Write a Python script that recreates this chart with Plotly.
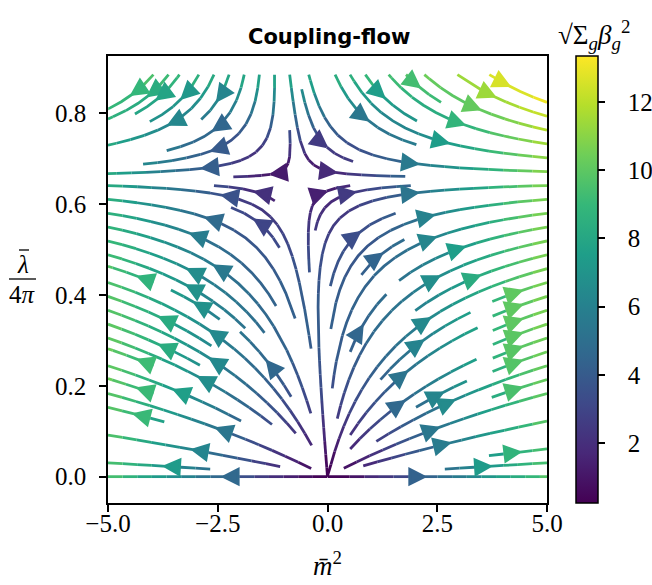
import numpy as np
import plotly.graph_objects as go
from plotly.colors import sample_colorscale

# ---------------- values ----------------
m_range = [-5.0, 5.0]            # extent of the m̄² grid
lam_range = [0.0, 0.885]         # extent of the λ̄/4π grid
grid_n = 100                     # grid resolution of the vector field
fixed_point = [-0.69, 0.656]     # non-trivial fixed point (m̄², λ̄/4π)
dim_m = 2.0                      # linear coefficient of β_m (relevant direction)
dim_lam = 2.0                    # linear coefficient of β_λ
lam_norm = 4 * np.pi             # λ̄ = 4π · (plotted coupling)
color_range = [0.24, 13.35]      # colour-bar limits
x_ticks = [-5.0, -2.5, 0.0, 2.5, 5.0]
y_ticks = [0.0, 0.2, 0.4, 0.6, 0.8]
y_view = [-0.058, 0.926]
cbar_ticks = [2, 4, 6, 8, 10, 12]

# ---------------- beta functions on the grid ----------------
m_star, l_star = fixed_point
A = -dim_m * m_star / l_star ** 2
B = dim_lam / l_star
xs = np.linspace(m_range[0], m_range[1], grid_n)
ys = np.linspace(lam_range[0], lam_range[1], grid_n)
X, Y = np.meshgrid(xs, ys)
U = dim_m * X + A * Y ** 2
V = dim_lam * Y - B * Y ** 2
SPEED = np.sqrt(U ** 2 + (lam_norm * V) ** 2)


# ---------------- streamline integration (port of matplotlib) ----------------
class OutOfBounds(IndexError):
    pass


class InvalidIndexError(Exception):
    pass


class TerminateTrajectory(Exception):
    pass


NX, NY = grid_n, grid_n
DX = xs[1] - xs[0]
DY = ys[1] - ys[0]
MASK_N = 30
mask = np.zeros((MASK_N, MASK_N), dtype=int)
mask_state = {"traj": [], "current": None}
g2m_x = (MASK_N - 1) / (NX - 1)
g2m_y = (MASK_N - 1) / (NY - 1)


def within_grid(xi, yi):
    return 0 <= xi <= NX - 1 and 0 <= yi <= NY - 1


def grid2mask(xi, yi):
    return int(round(float(xi * g2m_x))), int(round(float(yi * g2m_y)))


def mask_update(xm, ym):
    if mask_state["current"] != (xm, ym):
        if mask[ym, xm] == 0:
            mask_state["traj"].append((ym, xm))
            mask[ym, xm] = 1
            mask_state["current"] = (xm, ym)
        else:
            raise InvalidIndexError


def mask_start(xm, ym):
    mask_state["traj"] = []
    mask_update(xm, ym)


def mask_undo():
    for t in mask_state["traj"]:
        mask[t] = 0


def interp_scalar(a, xi, yi):
    Ny, Nx = a.shape
    x = int(xi)
    y = int(yi)
    xn = x if x == Nx - 1 else x + 1
    yn = y if y == Ny - 1 else y + 1
    xt = xi - x
    yt = yi - y
    a0 = a[y, x] * (1 - xt) + a[y, xn] * xt
    a1 = a[yn, x] * (1 - xt) + a[yn, xn] * xt
    return a0 * (1 - yt) + a1 * yt


def interp_array(a, xi, yi):
    Ny, Nx = a.shape
    x = xi.astype(int)
    y = yi.astype(int)
    xn = np.clip(x + 1, 0, Nx - 1)
    yn = np.clip(y + 1, 0, Ny - 1)
    xt = xi - x
    yt = yi - y
    a0 = a[y, x] * (1 - xt) + a[y, xn] * xt
    a1 = a[yn, x] * (1 - xt) + a[yn, xn] * xt
    return a0 * (1 - yt) + a1 * yt


Ug = U / DX
Vg = V / DY
spd_ax = np.sqrt((Ug / (NX - 1)) ** 2 + (Vg / (NY - 1)) ** 2)


def forward_time(xi, yi):
    if not within_grid(xi, yi):
        raise OutOfBounds
    ds_dt = interp_scalar(spd_ax, xi, yi)
    if ds_dt == 0:
        raise TerminateTrajectory
    dt_ds = 1.0 / ds_dt
    return interp_scalar(Ug, xi, yi) * dt_ds, interp_scalar(Vg, xi, yi) * dt_ds


def backward_time(xi, yi):
    dx, dy = forward_time(xi, yi)
    return -dx, -dy


def euler_step(traj, f):
    xi, yi = traj[-1]
    cx, cy = f(xi, yi)
    if cx == 0:
        dsx = np.inf
    elif cx < 0:
        dsx = xi / -cx
    else:
        dsx = (NX - 1 - xi) / cx
    if cy == 0:
        dsy = np.inf
    elif cy < 0:
        dsy = yi / -cy
    else:
        dsy = (NY - 1 - yi) / cy
    ds = min(dsx, dsy)
    traj.append((xi + cx * ds, yi + cy * ds))
    return ds, traj


def rk12(x0, y0, f, maxlength):
    maxerror = 0.003
    maxds = min(1.0 / MASK_N, 1.0 / MASK_N, 0.1)
    ds = maxds
    stotal = 0
    xi, yi = x0, y0
    traj = []
    while True:
        try:
            if within_grid(xi, yi):
                traj.append((xi, yi))
            else:
                raise OutOfBounds
            k1x, k1y = f(xi, yi)
            k2x, k2y = f(xi + ds * k1x, yi + ds * k1y)
        except OutOfBounds:
            if traj:
                ds, traj = euler_step(traj, f)
                stotal += ds
            break
        except TerminateTrajectory:
            break
        dx1 = ds * k1x
        dy1 = ds * k1y
        dx2 = ds * 0.5 * (k1x + k2x)
        dy2 = ds * 0.5 * (k1y + k2y)
        error = np.hypot((dx2 - dx1) / (NX - 1), (dy2 - dy1) / (NY - 1))
        if error < maxerror:
            xi += dx2
            yi += dy2
            try:
                if not within_grid(xi, yi):
                    raise InvalidIndexError
                mask_update(*grid2mask(xi, yi))
            except InvalidIndexError:
                break
            if stotal + ds > maxlength:
                break
            stotal += ds
        if error == 0:
            ds = maxds
        else:
            ds = min(maxds, 0.85 * ds * (maxerror / error) ** 0.5)
    return stotal, traj


def integrate(x0, y0, minlength=0.1, maxlength=4.0):
    stotal, traj = 0.0, []
    try:
        mask_start(*grid2mask(x0, y0))
    except InvalidIndexError:
        return None
    s, xyt = rk12(x0, y0, backward_time, maxlength)
    stotal += s
    traj += xyt[::-1]
    mask_state["current"] = grid2mask(x0, y0)
    s, xyt = rk12(x0, y0, forward_time, maxlength)
    stotal += s
    traj += xyt[1:]
    if stotal > minlength:
        return np.array(traj)
    mask_undo()
    return None


def starting_points(nx, ny):
    xfirst, yfirst, xlast, ylast = 0, 1, nx - 1, ny - 1
    x, y = 0, 0
    direction = "right"
    for _ in range(nx * ny):
        yield x, y
        if direction == "right":
            x += 1
            if x >= xlast:
                xlast -= 1
                direction = "up"
        elif direction == "up":
            y += 1
            if y >= ylast:
                ylast -= 1
                direction = "left"
        elif direction == "left":
            x -= 1
            if x <= xfirst:
                xfirst += 1
                direction = "down"
        elif direction == "down":
            y -= 1
            if y <= yfirst:
                yfirst += 1
                direction = "right"


trajectories = []
for xm, ym in starting_points(MASK_N, MASK_N):
    if mask[ym, xm] == 0:
        xg, yg = xm / g2m_x, ym / g2m_y
        t = integrate(xg, yg)
        if t is not None:
            trajectories.append(t)

# ---------------- build plotly traces ----------------
NB = 64
cmin, cmax = color_range
bin_cols = sample_colorscale("Viridis", list((np.arange(NB) + 0.5) / NB))
bins_x = [[] for _ in range(NB)]
bins_y = [[] for _ in range(NB)]

# pixel geometry of the plotting area (for arrow heads)
L_M, R_M, T_M, B_M = 108, 105, 56, 82
W_PX = 652 - L_M - R_M
H_PX = 585 - T_M - B_M
sx = W_PX / (m_range[1] - m_range[0])
sy = H_PX / (y_view[1] - y_view[0])
PT = 1.389
head_len = 10.5 * PT
head_half = 5.3 * PT
lw = 2.0 * PT

arrows = []
for t in trajectories:
    tgx, tgy = t[:, 0], t[:, 1]
    tx = tgx * DX + xs[0]
    ty = tgy * DY + ys[0]
    cv = interp_array(SPEED, tgx, tgy)[:-1]
    idx = np.clip(((cv - cmin) / (cmax - cmin) * NB).astype(int), 0, NB - 1)
    start = 0
    for i in range(1, len(idx) + 1):
        if i == len(idx) or idx[i] != idx[start]:
            b = idx[start]
            bins_x[b].extend(list(tx[start:i + 1]) + [None])
            bins_y[b].extend(list(ty[start:i + 1]) + [None])
            start = i
    s = np.cumsum(np.hypot(np.diff(tx), np.diff(ty)))
    n = int(np.searchsorted(s, s[-1] / 2.0))
    tail = np.array([tx[n], ty[n]])
    head = np.array([np.mean(tx[n:n + 2]), np.mean(ty[n:n + 2])])
    d = np.array([(head[0] - tail[0]) * sx, (head[1] - tail[1]) * sy])
    if np.hypot(*d) == 0:
        continue
    d = d / np.hypot(*d)
    perp = np.array([-d[1], d[0]])
    tip_px = -d * (2 * PT + 0.5 * lw / 0.4472)
    base_px = tip_px - d * head_len
    p1 = base_px + perp * head_half
    p2 = base_px - perp * head_half
    pts = [tip_px, p1, p2, tip_px]
    ax_ = [head[0] + p[0] / sx for p in pts]
    ay_ = [head[1] + p[1] / sy for p in pts]
    c = sample_colorscale("Viridis", [float(np.clip((cv[min(n, len(cv) - 1)] - cmin) / (cmax - cmin), 0, 1))])[0]
    arrows.append((ax_, ay_, c))

fig = go.Figure()
for b in range(NB):
    if bins_x[b]:
        fig.add_trace(go.Scatter(x=bins_x[b], y=bins_y[b], mode="lines",
                                 line=dict(color=bin_cols[b], width=lw),
                                 hoverinfo="skip", showlegend=False))
for ax_, ay_, c in arrows:
    fig.add_trace(go.Scatter(x=ax_, y=ay_, mode="lines", fill="toself",
                             fillcolor=c, line=dict(color=c, width=lw),
                             hoverinfo="skip", showlegend=False))

serif = "Liberation Serif"
TICK_SIZE = 25

# colour bar
fig.add_trace(go.Scatter(
    x=[0.0], y=[0.0], mode="markers",
    marker=dict(size=0.1, color=[cmin], colorscale="Viridis", cmin=cmin, cmax=cmax,
                showscale=True,
                colorbar=dict(x=1 + 29 / W_PX, xanchor="left", xpad=0, ypad=0,
                              y=0.5, yanchor="middle", len=1, lenmode="fraction",
                              thickness=22, thicknessmode="pixels",
                              outlinewidth=1.5, outlinecolor="black",
                              tickvals=cbar_ticks,
                              ticktext=["\u2002\u2009" + str(v) for v in cbar_ticks],
                              ticks="outside", ticklen=7,
                              tickwidth=1.5, tickcolor="black",
                              tickfont=dict(family=serif, size=TICK_SIZE, color="black"))),
    hoverinfo="skip", showlegend=False))

axis_common = dict(ticks="outside", ticklen=7, tickwidth=1.5, tickcolor="black",
                   showline=True, mirror=True, linecolor="black", linewidth=1.6,
                   showgrid=False, zeroline=False,
                   tickfont=dict(family=serif, size=TICK_SIZE, color="black"))
fig.update_layout(
    width=652, height=585,
    margin=dict(l=L_M, r=R_M, t=T_M, b=B_M, autoexpand=False),
    plot_bgcolor="white", paper_bgcolor="white", showlegend=False,
    xaxis=dict(range=m_range, tickvals=x_ticks, ticklabelstandoff=-10,
               ticktext=[f"{v:.1f}".replace("-", "\u2212") for v in x_ticks], **axis_common),
    yaxis=dict(range=y_view, tickvals=y_ticks, ticklabelstandoff=8,
               ticktext=[f"{v:.1f}" for v in y_ticks], **axis_common),
)


def px_x(p):
    return (p - L_M) / W_PX


def px_y(p):
    return (585 - B_M - p) / H_PX


ann = []
ann.append(dict(text="<b>Coupling-flow</b>", x=px_x(329), y=px_y(37), xref="paper", yref="paper",
                showarrow=False, font=dict(family="DejaVu Sans", size=21, color="black"),
                xanchor="center", yanchor="middle"))
ann.append(dict(text="<i>m\u0304</i><sup>2</sup>", x=px_x(327), y=px_y(564),
                xref="paper", yref="paper", showarrow=False,
                font=dict(family=serif, size=27, color="black"), xanchor="center", yanchor="middle"))
ann.append(dict(text="<i>\u03bb</i>", x=px_x(23), y=px_y(264),
                xref="paper", yref="paper", showarrow=False,
                font=dict(family=serif, size=25, color="black"), xanchor="center", yanchor="middle"))
ann.append(dict(text="4<i>\u03c0</i>", x=px_x(22.5), y=px_y(294),
                xref="paper", yref="paper", showarrow=False,
                font=dict(family=serif, size=25, color="black"), xanchor="center", yanchor="middle"))
ann.append(dict(text="\u221a\u03a3<sub><i>g</i></sub><i>\u03b2</i><sub><i>g</i></sub><sup>2</sup>",
                x=px_x(594), y=px_y(35), xref="paper", yref="paper",
                showarrow=False, font=dict(family=serif, size=27, color="black"),
                xanchor="center", yanchor="middle"))
fig.update_layout(annotations=ann)
# fraction bar of the y label and macron over λ
fig.add_shape(type="line", xref="paper", yref="paper",
              x0=px_x(9), x1=px_x(36), y0=px_y(279), y1=px_y(279),
              line=dict(color="black", width=1.3))
fig.add_shape(type="line", xref="paper", yref="paper",
              x0=px_x(19), x1=px_x(29), y0=px_y(250), y1=px_y(250),
              line=dict(color="black", width=1.3))

fig.write_html("out.html", post_script="document.body.style.margin='0px';",
               config={"displayModeBar": False})
